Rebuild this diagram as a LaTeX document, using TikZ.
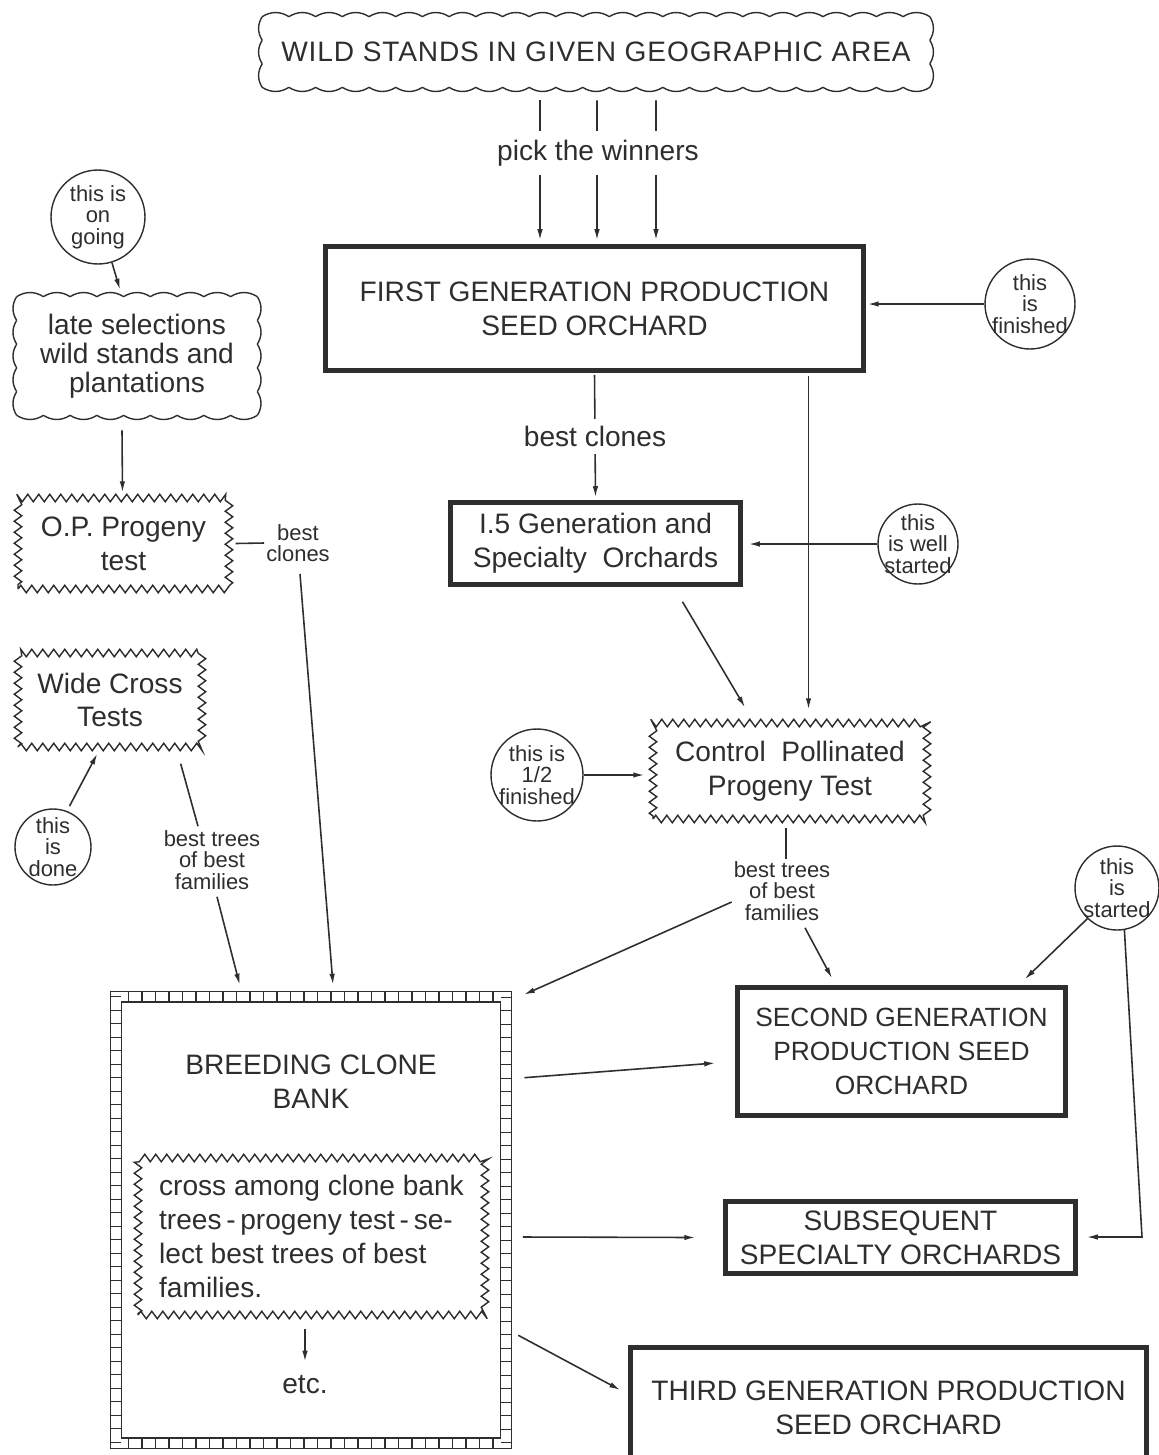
\documentclass[tikz,border=0pt]{standalone}
\usepackage{fontspec}
\setmainfont{Liberation Sans}
\newfontfamily\widefont[LetterSpace=3]{Liberation Sans}
\usetikzlibrary{arrows.meta,calc,decorations.pathmorphing,decorations.pathreplacing}

\colorlet{ink}{black!82}

\tikzset{
  bigtext/.style={font=\fontsize{16}{19.2}\selectfont, text=ink},
  smalltext/.style={font=\fontsize{12.5}{12.3}\selectfont, text=ink},
  heavybox/.style={draw=ink, line width=2.6pt, bigtext, align=center, inner sep=0pt},
  cloudbox/.style={bigtext, align=center, inner sep=0pt},
  cloudline/.style={draw=ink, line width=0.8pt},
  zigbox/.style={draw=ink, line width=0.8pt, bigtext, align=center, inner sep=0pt,
    decorate, decoration={zigzag, segment length=0.22cm, amplitude=0.075cm}},
  stage/.style={circle, draw=ink, line width=0.8pt, smalltext, align=center, inner sep=-4pt},
  note/.style={smalltext, align=center, inner sep=1pt},
  arr/.style={draw=ink, line width=0.9pt, -{Latex[length=0.22cm,width=0.11cm]}},
  link/.style={draw=ink, line width=0.9pt},
}

% one scalloped side of a node: node, from anchor, to anchor, bumps
\newcommand\cloudside[4]{%
  \foreach \k in {1,...,#4}
    \draw[cloudline] ($(#1.#2)!{(\k-1)/#4}!(#1.#3)$) to[bend left=32] ($(#1.#2)!{\k/#4}!(#1.#3)$);%
}
% scalloped frame: #2 bumps across, #3 bumps down
\newcommand\cloudframe[3]{%
  \cloudside{#1}{north west}{north east}{#2}%
  \cloudside{#1}{north east}{south east}{#3}%
  \cloudside{#1}{south east}{south west}{#2}%
  \cloudside{#1}{south west}{north west}{#3}%
}

\begin{document}
\begin{tikzpicture}[x=0.02cm, y=-0.02cm]
\useasboundingbox (0,0) rectangle (1159,1455);

% the main line of orchards
\node[cloudbox, minimum width=13.34cm, minimum height=1.4cm,
      font=\widefont\fontsize{16}{19.2}\selectfont] (wild) at (596,52)
  {WILD STANDS IN GIVEN GEOGRAPHIC AREA};
\cloudframe{wild}{25}{3}
\node[heavybox, minimum width=10.76cm, minimum height=2.48cm] (first) at (594.5,308.5)
  {FIRST GENERATION PRODUCTION\\SEED ORCHARD};
\node[heavybox, minimum width=5.8cm, minimum height=1.64cm] (gen15) at (595.5,543.5)
  {I.5 Generation and\\Specialty~ Orchards};
\node[zigbox, minimum width=5.48cm, minimum height=1.92cm] (cpt) at (790,771)
  {Control~ Pollinated\\Progeny Test};
\node[heavybox, minimum width=6.56cm, minimum height=2.56cm,
      font=\fontsize{15}{19.2}\selectfont] (second) at (901.5,1051.5)
  {SECOND GENERATION\\PRODUCTION SEED\\ORCHARD};
\node[heavybox, minimum width=7cm, minimum height=1.44cm] (sub) at (900.5,1237.5)
  {SUBSEQUENT\\SPECIALTY ORCHARDS};
\node[heavybox, minimum width=10.32cm, minimum height=2.4cm] (third) at (888.5,1407.5)
  {THIRD GENERATION PRODUCTION\\SEED ORCHARD};

% the left column
\node[cloudbox, minimum width=4.8cm, minimum height=2.36cm,
      font=\fontsize{16}{16.5}\selectfont] (late) at (137,356)
  {late selections\\wild stands and\\plantations};
\cloudframe{late}{9}{5}
\node[zigbox, minimum width=4.22cm, minimum height=1.82cm] (op) at (123.5,543.5)
  {O.P. Progeny\\test};
\node[zigbox, minimum width=3.68cm, minimum height=1.88cm] (wide) at (110,700)
  {Wide Cross\\Tests};

% breeding clone bank
\node[minimum width=7.78cm, minimum height=8.92cm, inner sep=0pt] (bank) at (311,1220) {};
\draw[ink, line width=0.7pt, double, double distance=0.19cm]
  (bank.north west) rectangle (bank.south east);
\draw[ink, line width=0.7pt, decorate, decoration={ticks, segment length=0.27cm, amplitude=0.1cm}]
  (bank.north west) rectangle (bank.south east);
\node[bigtext, align=center] (bcb) at (311,1082) {BREEDING CLONE\\BANK};
\node[zigbox, align=left, minimum width=6.94cm, minimum height=3.14cm] (inner) at (311.5,1236.5)
  {cross among clone bank\\trees\,-\,progeny test\,-\,se-\\lect best trees of best\\families.};
\node[bigtext, inner sep=1pt] (etc) at (305,1385) {etc.};

% status circles
\node[stage, minimum size=1.8cm] (fin) at (1030,304) {this\\is\\finished};
\node[stage, minimum size=1.88cm] (ongoing) at (98,217) {this is\\on\\going};
\node[stage, minimum size=1.52cm] (done) at (53,847) {this\\is\\done};
\node[stage, minimum size=1.6cm] (well) at (918,544) {this\\is well\\started};
\node[stage, minimum size=1.84cm] (half) at (537,775) {this is\\1/2\\finished};
\node[stage, minimum size=1.68cm] (st) at (1117,888) {this\\is\\started};

% labels
\node[note] (bc1) at (298,543) {best\\clones};
\node[note] (bt1) at (212,860) {best trees\\of best\\families};
\node[note] (bt2) at (782,891) {best trees\\of best\\families};

% connectors
\foreach \dx in {-56,1,60}
  \draw[arr] ($(wild.south)+(\dx,13)$) -- ($(first.north)+(\dx+1.5,-4)$);
\node[bigtext, fill=white, inner xsep=2pt, inner ysep=0.17cm] (pick) at (598,153) {pick the winners};
\draw[arr, shorten >=0.04cm] (fin.west) -- (fin.west -| first.east);
\draw[arr, shorten <=0.04cm, shorten >=0.06cm] (first.south) --
  node[bigtext, fill=white, inner ysep=0.15cm] (bcl) {best clones} (gen15.north);
\draw[arr] ($(first.south)+(214,3)$) -- ($(cpt.north)+(18.5,-13)$);
\draw[arr] ($(gen15.south)+(87,15)$) -- ($(cpt.north)+(-45,-15)$);
\draw[arr, shorten >=0.12cm] (well.west) -- (well.west -| gen15.east);
\draw[arr, shorten >=0.16cm] (half.east) -- (half.east -| cpt.west);
\draw[link] ($(cpt.south)+(-4,8)$) -- ($(bt2.north)+(4,0)$);
\draw[arr] ($(bt2.west)+(0,11)$) -- ($(bank.north east)+(18,-2)$);
\draw[arr] ($(bt2.south)+(23,5)$) -- ($(second.north)+(-69.5,-7)$);
\draw[arr] (st.226) -- ($(second.north east)+(-43,-6)$);
\coordinate (turn) at (1142,1237);
\draw[arr, shorten >=0.18cm] (st.280) -- (turn) -- (turn -| sub.east);
\draw[arr] ($(bank.north east)+(18.5,81)$) -- ($(second.west)+(-20,11.5)$);
\draw[arr] ($(bank.east)+(17,17)$) -- ($(sub.west)+(-28,0)$);
\draw[arr] ($(bank.south east)+(12.5,-108)$) -- ($(third.west)+(-8,-17.5)$);
\draw[arr] ($(inner.south)+(-6.5,13)$) -- ($(etc.north)+(0,-12)$);
\draw[arr] (ongoing.287) -- ($(late.north)+(-17,-7)$);
\draw[arr] ($(late.south)+(-15,15)$) -- ($(op.north)+(-1,-5)$);
\draw[link] ($(op.east)+(6,0)$) -- (bc1.west);
\draw[arr] ($(bc1.south)+(2,10)$) -- ($(bank.north)+(22,-12)$);
\draw[link] ($(wide.south east)+(-22,16)$) -- ($(bt1.north)+(-14,-2)$);
\draw[arr] ($(bt1.south)+(5,5)$) -- ($(bank.north west)+(123.5,-12)$);
\draw[arr] ($(done.68)+(2,-5)$) -- ($(wide.south west)+(80,6)$);
\end{tikzpicture}
\end{document}
